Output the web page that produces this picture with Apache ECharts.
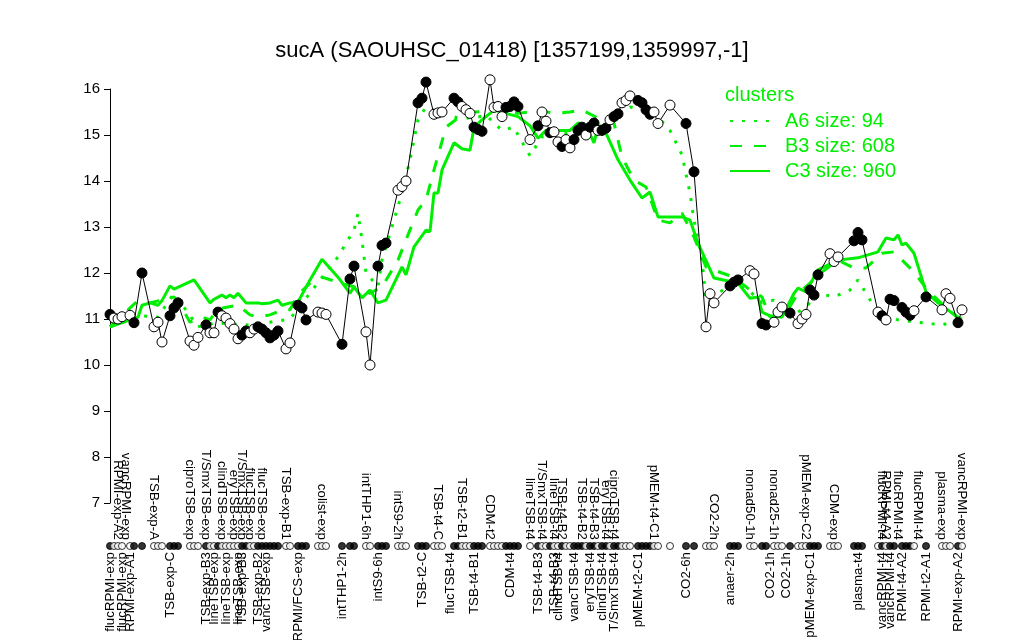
<!DOCTYPE html>
<html><head><meta charset="utf-8">
<script src="https://cdn.jsdelivr.net/npm/echarts@6/dist/echarts.min.js"></script>
<style>html,body{margin:0;padding:0;background:#fff}#c{width:1024px;height:640px}</style>
</head><body><div id="c"></div>
<script>
const titleText = 'sucA (SAOUHSC_01418) [1357199,1359997,-1]';
const nSlots = 214;
const yMin = 7, yMax = 16, yStep = 1;

const pointSlots = [0,1,2,3,5,6,8,11,12,13,15,16,17,20,21,22,24,25,26,27,28,29,30,31,32,33,34,35,36,37,38,39,40,41,42,44,45,47,48,49,52,53,54,58,60,61,64,65,67,68,69,72,73,74,77,78,79,81,82,83,86,87,88,89,90,91,92,93,95,96,97,98,99,100,101,102,105,107,108,109,110,111,112,113,114,115,116,117,118,119,120,121,122,123,124,125,126,127,128,129,130,132,133,134,135,136,137,140,144,146,149,150,151,155,156,157,160,161,163,164,166,167,168,170,172,173,174,175,176,177,180,181,182,186,187,188,192,193,194,195,196,198,199,200,201,204,208,209,210,212,213];
const pointValues = [11.10,11.02,11.00,11.05,11.08,10.92,12.00,10.83,10.93,10.50,11.07,11.24,11.35,10.52,10.43,10.60,10.87,10.70,10.70,11.15,11.07,11.02,10.90,10.78,10.57,10.65,10.74,10.70,10.78,10.83,10.78,10.70,10.59,10.65,10.74,10.35,10.48,11.30,11.24,10.98,11.15,11.13,11.10,10.45,11.87,12.15,10.72,10.00,12.15,12.60,12.65,13.80,13.88,14.00,15.70,15.80,16.15,15.45,15.48,15.50,15.80,15.72,15.62,15.55,15.47,15.17,15.12,15.08,16.20,15.60,15.62,15.40,15.60,15.62,15.72,15.62,14.90,15.20,15.50,15.30,15.05,15.07,14.85,14.75,14.90,14.72,14.90,15.10,15.17,15.00,15.17,15.26,15.10,15.10,15.15,15.33,15.40,15.46,15.70,15.75,15.85,15.75,15.70,15.55,15.45,15.50,15.25,15.65,15.25,14.20,10.83,11.55,11.35,11.72,11.80,11.85,12.05,11.98,10.90,10.87,10.93,11.15,11.26,11.13,10.90,11.00,11.10,11.63,11.52,11.96,12.42,12.25,12.35,12.70,12.88,12.72,11.15,11.07,10.98,11.43,11.40,11.25,11.15,11.08,11.18,11.48,11.20,11.55,11.45,10.92,11.20];
const pointFilled = [1,0,0,0,0,1,1,0,0,0,1,1,1,0,0,0,1,0,0,1,0,0,0,0,0,1,1,0,0,1,1,1,1,1,1,0,0,1,1,1,0,0,0,1,1,1,0,0,1,1,1,0,0,0,1,1,1,0,0,0,1,1,0,0,0,1,1,1,0,0,0,0,1,1,1,1,0,1,0,0,1,0,0,1,0,0,1,1,1,0,1,1,0,1,1,0,1,1,0,0,0,1,1,1,1,0,0,0,1,1,0,0,0,1,1,1,0,0,1,1,0,0,0,1,0,0,0,1,1,1,0,0,0,1,1,1,0,1,0,1,1,1,1,1,0,1,0,0,0,1,0];

const topLabels = [[2,'RPMI-exp-A2'],[4,'vancRPMI-exp'],[11,'TSB-exp-A'],[20,'ciproTSB-exp'],[24,'T/SmxTSB-exp'],[28,'clindTSB-exp'],[31,'eryTSB-exp'],[33,'T/SmxTSB-exp'],[35,'flucTSB-exp'],[38,'flucTSB-exp'],[44,'TSB-exp-B1'],[53,'colist-exp'],[64,'intTHP1-6h'],[72,'intS9-2h'],[82,'TSB-t4-C'],[88,'TSB-t2-B1'],[95,'CDM-t2'],[105,'lineTSB-t4'],[108,'T/SmxTSB-t4'],[111,'lineTSB-t4'],[113,'TSB-t4-B2'],[118,'TSB-t4-B2'],[121,'TSB-t4-B3'],[124,'eryTSB-t4'],[126,'ciproTSB-t4'],[136,'pMEM-t4-C1'],[151,'CO2-2h'],[160,'nonad50-1h'],[166,'nonad25-1h'],[174,'pMEM-exp-C2'],[181,'CDM-exp'],[193,'flucRPMI-t4'],[194,'RPMI-t4-A2'],[197,'flucRPMI-t4'],[202,'flucRPMI-t4'],[208,'plasma-exp'],[213,'vancRPMI-exp']];
const bottomLabels = [[0,'flucRPMI-exp'],[3,'flucRPMI-exp'],[5,'RPMI-exp-A1'],[15,'TSB-exp-C'],[24,'TSB-exp-B3'],[26,'lineTSB-exp'],[29,'lineTSB-exp'],[32,'lineTSB-exp'],[33,'TSB-exp-B3'],[37,'TSB-exp-B2'],[39,'vancTSB-exp'],[47,'RPMI/FCS-exp'],[58,'intTHP1-2h'],[67,'intS9-6h'],[78,'TSB-t2-C'],[85,'flucTSB-t4'],[91,'TSB-t4-B1'],[100,'CDM-t4'],[107,'TSB-t4-B3'],[111,'TSB-t4-B3'],[112,'clindTSB-t4'],[116,'vancTSB-t4'],[120,'eryTSB-t4'],[123,'clindTSB-t4'],[126,'T/SmxTSB-t4'],[132,'pMEM-t2-C1'],[144,'CO2-6h'],[155,'anaer-2h'],[165,'CO2-1h'],[169,'CO2-1h'],[175,'pMEM-exp-C1'],[187,'plasma-t4'],[193,'vancRPMI-t4'],[195,'vancRPMI-t4'],[198,'RPMI-t4-A2'],[204,'RPMI-t2-A1'],[212,'RPMI-exp-A2']];

const clusterA6 = [[0,10.83],[8,11.07],[12,11.04],[16,11.56],[22,10.83],[26,10.91],[30,10.9],[34,10.87],[40,10.93],[45,11.0],[49,11.45],[53,11.9],[57,12.35],[59,12.65],[61,12.93],[62,13.3],[63,12.72],[64,12.0],[67,11.7],[68,12.28],[71,13.15],[73,13.74],[75,14.46],[77,15.33],[79,15.61],[83,15.47],[87,15.37],[91,15.37],[94,15.43],[98,15.1],[101,15.17],[102,15.0],[105,14.55],[108,14.96],[111,15.0],[115,15.04],[119,15.15],[123,15.2],[127,15.43],[130,15.61],[134,15.54],[137,15.4],[140,15.1],[143,14.57],[145,13.74],[146,13.15],[148,12.28],[149,11.41],[152,11.56],[156,11.78],[160,11.6],[163,11.35],[166,11.41],[170,11.04],[174,11.26],[177,11.56],[181,11.48],[185,11.63],[187,11.85],[189,11.56],[192,11.13],[197,10.98],[202,10.93],[208,10.87],[212,10.98],[213,10.95]];
const clusterB3 = [[0,10.83],[7,11.4],[10,11.35],[16,11.48],[18,11.24],[20,10.93],[23,11.04],[25,10.98],[27,11.22],[32,11.3],[35,11.09],[37,11.04],[40,11.09],[43,11.2],[45,11.2],[47,11.52],[50,11.78],[53,11.91],[57,11.8],[61,11.7],[65,11.56],[68,11.7],[72,12.28],[74,12.72],[77,13.37],[79,13.59],[81,14.24],[84,15.17],[87,15.37],[89,15.43],[91,15.5],[98,15.54],[102,15.47],[105,15.5],[107,15.54],[111,15.47],[115,15.5],[118,15.54],[122,15.37],[126,15.26],[128,14.52],[131,14.02],[134,13.87],[137,13.15],[140,13.09],[143,13.3],[146,12.78],[149,12.13],[153,12.0],[156,11.91],[160,11.63],[163,11.48],[165,11.04],[169,11.13],[172,11.56],[175,11.78],[178,12.02],[182,12.28],[186,12.11],[189,12.11],[193,12.43],[196,12.46],[201,12.02],[204,11.67],[207,11.41],[212,11.02],[213,11.0]];
const clusterC3 = [[0,10.83],[7,11.04],[8,11.3],[10,11.35],[12,11.3],[13,11.4],[15,11.72],[16,11.65],[21,11.85],[25,11.35],[26,11.43],[28,11.52],[29,11.46],[30,11.52],[31,11.46],[32,11.56],[34,11.35],[37,11.35],[38,11.33],[40,11.35],[42,11.41],[43,11.3],[45,11.35],[47,11.37],[50,11.85],[53,12.3],[57,11.91],[60,11.56],[61,11.7],[63,11.46],[65,11.63],[67,11.35],[69,11.41],[73,12.13],[74,11.96],[76,12.57],[79,12.93],[80,12.9],[81,13.74],[82,13.74],[83,14.24],[86,14.83],[88,14.7],[90,14.67],[91,15.17],[93,15.33],[96,15.54],[99,15.47],[102,15.4],[105,15.2],[107,14.93],[109,15.1],[115,15.1],[117,15.26],[119,15.2],[121,14.83],[122,15.17],[124,15.04],[127,14.46],[130,14.02],[133,13.63],[135,13.76],[137,13.22],[143,13.22],[145,13.15],[147,12.65],[151,11.89],[156,11.8],[157,11.78],[160,11.45],[162,11.48],[163,11.15],[165,11.07],[168,11.04],[171,11.56],[172,11.67],[174,11.59],[177,12.07],[182,12.28],[187,12.33],[192,12.46],[194,12.76],[196,12.72],[197,12.83],[198,12.61],[199,12.65],[201,12.43],[204,11.59],[207,11.35],[212,11.04],[213,11.0]];

const legendNames = ['A6 size: 94','B3 size: 608','C3 size: 960'];
const legendTitle = 'clusters';

const GREEN = '#00ee00';
const FONT = '"Liberation Sans", Arial, Helvetica, sans-serif';

const slotNames = Array.from({length: nSlots}, (_, i) => String(i));
const topMap = {}; topLabels.forEach(([s, t]) => topMap[s] = t);
const botMap = {}; bottomLabels.forEach(([s, t]) => botMap[s] = t);

const mainData = pointSlots.map((s, i) => ({
  value: [s, pointValues[i]],
  itemStyle: {color: pointFilled[i] ? '#000' : '#fff'}
}));
const rowData = pointSlots.map((s, i) => ({
  value: [s, 0],
  itemStyle: {color: pointFilled[i] ? '#000' : '#fff'}
}));

const chart = echarts.init(document.getElementById('c'), null, {renderer: 'canvas'});
const greenSeries = (name, data, type) => ({
  name, type: 'line', xAxisIndex: 0, yAxisIndex: 0, data,
  symbol: 'none', showSymbol: false, clip: false, z: 2,
  lineStyle: {color: GREEN, width: 3, type, cap: 'butt'},
  itemStyle: {color: GREEN},
  emphasis: {disabled: true}, silent: true
});

chart.setOption({
  animation: false,
  backgroundColor: '#fff',
  title: [
    {text: titleText, left: 'center', top: 35,
     textStyle: {fontFamily: FONT, fontSize: 22, fontWeight: 'normal', color: '#000'}},
    {text: legendTitle, left: 720, top: 80,
     textStyle: {fontFamily: FONT, fontSize: 20, fontWeight: 'normal', color: GREEN}}
  ],
  legend: {
    orient: 'vertical', left: 724, top: 106, itemWidth: 40, itemHeight: 14, itemGap: 5,
    data: legendNames,
    itemStyle: {opacity: 0},
    textStyle: {fontFamily: FONT, fontSize: 20, color: GREEN, lineHeight: 20, padding: [0, 0, 0, 10]},
    selectedMode: false
  },
  grid: [
    {left: 110, right: 62, top: 89, height: 414},
    {left: 110, right: 62, top: 545, height: 8}
  ],
  xAxis: [
    {type: 'value', gridIndex: 0, min: 0, max: nSlots - 1, show: false},
    {type: 'category', gridIndex: 1, position: 'bottom', data: slotNames, boundaryGap: false,
     axisLine: {show: false}, axisTick: {show: false}, splitLine: {show: false},
     axisLabel: {interval: 0, rotate: 90, margin: 5, fontFamily: FONT, fontSize: 13.3, color: '#000',
       formatter: (v, i) => botMap[i] || ''}},
    {type: 'category', gridIndex: 1, position: 'top', data: slotNames, boundaryGap: false,
     axisLine: {show: false}, axisTick: {show: false}, splitLine: {show: false},
     axisLabel: {interval: 0, rotate: 90, margin: 5, fontFamily: FONT, fontSize: 13.3, color: '#000',
       formatter: (v, i) => topMap[i] || ''}}
  ],
  yAxis: [
    {type: 'value', gridIndex: 0, min: yMin, max: yMax, interval: yStep, offset: 5,
     axisLine: {show: true, lineStyle: {color: '#000', width: 1}},
     axisTick: {show: true, length: 6, lineStyle: {color: '#000'}},
     splitLine: {show: false},
     axisLabel: {margin: 5, fontFamily: FONT, fontSize: 15, color: '#000'}},
    {type: 'value', gridIndex: 1, min: -1, max: 1, show: false}
  ],
  series: [
    greenSeries(legendNames[0], clusterA6, [3, 9]),
    greenSeries(legendNames[1], clusterB3, [12, 12]),
    greenSeries(legendNames[2], clusterC3, 'solid'),
    {type: 'line', xAxisIndex: 0, yAxisIndex: 0, data: mainData, clip: false, z: 3,
     symbol: 'circle', symbolSize: 10, showAllSymbol: true,
     lineStyle: {color: '#000', width: 1},
     itemStyle: {borderColor: '#000', borderWidth: 1},
     emphasis: {disabled: true}, silent: true},
    {type: 'scatter', xAxisIndex: 1, yAxisIndex: 1, data: rowData, symbol: 'circle', symbolSize: 7,
     itemStyle: {borderColor: '#000', borderWidth: 1}, emphasis: {disabled: true}, silent: true}
  ]
});
</script></body></html>
